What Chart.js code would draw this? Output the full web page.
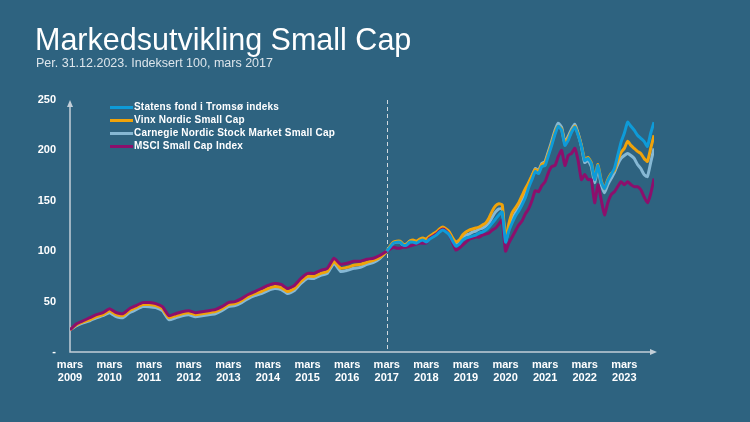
<!DOCTYPE html>
<html>
<head>
<meta charset="utf-8">
<script src="https://cdn.jsdelivr.net/npm/chart.js@4.4.1/dist/chart.umd.min.js"></script>
<style>
  html, body { margin: 0; padding: 0; background: #2e6380; }
  #wrap { position: relative; width: 750px; height: 422px; overflow: hidden;
          font-family: "Liberation Sans", Arial, sans-serif; }
  #chart { position: absolute; left: 0; top: 0; }
  h1 { position: absolute; left: 35px; top: 24px; margin: 0; font-size: 30.5px; line-height: 30px;
       font-weight: normal; color: #fff; white-space: nowrap; }
  .sub { position: absolute; left: 36px; top: 57px; font-size: 12.5px; line-height: 1;
         color: #dce5eb; white-space: nowrap; }
  #legend { position: absolute; left: 110px; top: 100px; }
  #legend div { height: 13px; line-height: 13px; font-size: 10px; font-weight: bold; color: #fff;
                white-space: nowrap; letter-spacing: 0.2px; }
  #legend span { display: inline-block; width: 23px; height: 3px; margin-right: 1px; vertical-align: middle; }
</style>
</head>
<body>
<div id="wrap">
  <canvas id="chart" width="750" height="422"></canvas>
  <h1>Markedsutvikling Small Cap</h1>
  <div class="sub">Per. 31.12.2023. Indeksert 100, mars 2017</div>
  <div id="legend"></div>
</div>
<script>
// month offsets from mars 2009: every 2nd month up to mars 2017, then monthly to des 2023
var months = [];
for (var m = 0; m <= 96; m += 2) months.push(m);
for (var m2 = 97; m2 <= 177; m2++) months.push(m2);

var tickMonths = [0, 12, 24, 36, 48, 60, 72, 84, 96, 108, 120, 132, 144, 156, 168];
var tickYears = ['2009', '2010', '2011', '2012', '2013', '2014', '2015', '2016', '2017',
                 '2018', '2019', '2020', '2021', '2022', '2023'];

var seriesNames = ['Statens fond i Tromsø indeks', 'Vinx Nordic Small Cap',
                   'Carnegie Nordic Stock Market Small Cap', 'MSCI Small Cap Index'];
var seriesColors = ['#0e9bd8', '#f0a30a', '#86b8d4', '#8c0f6c'];

// before mars 2017 (every 2nd month)
var vinxPre = [22,27,30,32,35,37,41,37,36,41,44,47,47,46,43,34,36,38,39,37,38,39,40,43,47,
               48,51,55,58,60,63,65,64,60,63,70,75,75,78,80,90,83,84,86,87,89,91,94,100];
var carnegiePre = [22,26,29,31,34,36,39,35,34,39,42,45,45,44,41,32,34,36,37,35,36,37,38,41,45,
                   46,49,53,56,58,61,63,62,58,61,68,73,73,76,78,88,80,81,83,84,87,89,93,100];
var msciPre = [22,28,31,34,37,39,43,39,38,43,46,49,49,48,45,36,38,40,41,39,40,41,42,45,49,
               50,53,57,60,63,66,68,67,63,66,73,78,78,81,83,93,87,88,90,90,92,93,96,100];

// apr 2017 - des 2023 (monthly)
var statensPost = [104,108,109,109,106,106,109,109,108,110,111,109,
                   112,114,116,119,121,119,116,110,105,107,111,113,
                   114,115,116,118,119,121,124,128,132,136,139,109,
                   120,128,135,140,146,153,163,171,179,177,184,185,
                   195,205,216,224,220,205,210,218,223,215,204,190,
                   192,187,171,185,169,162,170,176,182,195,208,217,
                   228,224,220,215,212,209,204,217,228];
var vinxPost = [105,109,110,110,107,107,110,111,110,112,113,112,
                115,117,119,122,124,122,119,113,109,111,116,119,
                121,122,123,124,126,128,133,140,145,147,146,112,
                127,138,143,148,155,162,168,175,181,179,186,188,
                197,207,218,224,221,207,212,219,224,216,205,191,
                193,188,172,186,170,162,171,177,180,190,198,202,
                209,205,202,199,197,192,189,202,215];
var carnegiePost = [104,108,109,109,106,107,110,110,109,111,112,110,
                    113,115,117,120,122,120,117,111,106,108,113,116,
                    117,119,120,122,123,125,128,134,139,142,142,110,
                    123,132,138,143,150,158,167,174,182,180,187,189,
                    199,209,220,227,223,208,214,221,226,217,204,188,
                    190,184,168,182,166,158,166,172,178,186,192,195,
                    197,195,192,186,182,176,174,188,202];
var msciPost = [102,104,103,103,104,104,105,106,107,108,108,108,
                113,115,117,120,122,120,116,108,101,103,106,109,
                112,113,114,114,116,117,118,121,123,127,131,100,
                108,114,120,126,130,137,142,150,160,159,165,169,
                178,184,185,194,200,185,195,197,202,190,171,176,
                171,171,148,166,151,136,148,156,159,164,169,166,
                169,166,164,164,161,154,148,157,172];

var statens = [];
for (var i = 0; i < 48; i++) statens.push(null);
statens = statens.concat([100], statensPost);
var vinx = vinxPre.concat(vinxPost);
var carnegie = carnegiePre.concat(carnegiePost);
var msci = msciPre.concat(msciPost);

function toPoints(arr) {
  return months.map(function(m, i) { return { x: m, y: arr[i] }; });
}

// legend (HTML)
var legend = document.getElementById('legend');
seriesNames.forEach(function(name, i) {
  var row = document.createElement('div');
  row.innerHTML = '<span style="background:' + seriesColors[i] + '"></span>' + name;
  legend.appendChild(row);
});

var axisColor = '#c3cfd8';
var axesPlugin = {
  id: 'axesArrows',
  beforeDatasetsDraw: function(chart) {
    var ctx = chart.ctx, a = chart.chartArea;
    var xs = chart.scales.x;
    ctx.save();
    // dashed line at mars 2017
    var dx = Math.round(xs.getPixelForValue(96)) + 0.5;
    ctx.strokeStyle = '#d0d8de';
    ctx.lineWidth = 1;
    ctx.setLineDash([4, 3]);
    ctx.beginPath();
    ctx.moveTo(dx, a.top);
    ctx.lineTo(dx, a.bottom);
    ctx.stroke();
    ctx.setLineDash([]);
    // axes
    ctx.strokeStyle = axisColor;
    ctx.fillStyle = axisColor;
    ctx.lineWidth = 1.5;
    ctx.beginPath();
    ctx.moveTo(a.left, a.top + 4);
    ctx.lineTo(a.left, a.bottom);
    ctx.lineTo(a.right - 2, a.bottom);
    ctx.stroke();
    ctx.beginPath();
    ctx.moveTo(a.left, a.top);
    ctx.lineTo(a.left - 3, a.top + 7);
    ctx.lineTo(a.left + 3, a.top + 7);
    ctx.closePath();
    ctx.fill();
    ctx.beginPath();
    ctx.moveTo(a.right + 3, a.bottom);
    ctx.lineTo(a.right - 4, a.bottom - 3);
    ctx.lineTo(a.right - 4, a.bottom + 3);
    ctx.closePath();
    ctx.fill();
    ctx.restore();
  }
};

var fam = '"Liberation Sans", Arial, sans-serif';
var ds = function(idx, arr) {
  return {
    label: seriesNames[idx],
    data: toPoints(arr),
    borderColor: seriesColors[idx],
    borderWidth: 3,
    pointRadius: 0,
    tension: 0.15,
    fill: false,
    spanGaps: false
  };
};

new Chart(document.getElementById('chart'), {
  type: 'line',
  data: {
    // first dataset is painted on top
    datasets: [ds(0, statens), ds(3, msci), ds(1, vinx), ds(2, carnegie)]
  },
  options: {
    responsive: false,
    animation: false,
    layout: { padding: { left: 0, top: 100, right: 96, bottom: 18 } },
    plugins: { legend: { display: false }, tooltip: { enabled: false } },
    scales: {
      x: {
        type: 'linear',
        min: 0,
        max: 177,
        grid: { display: false, drawTicks: false },
        border: { display: false },
        afterBuildTicks: function(s) { s.ticks = tickMonths.map(function(v) { return { value: v }; }); },
        afterFit: function(s) { s.height = 52; },
        ticks: {
          color: '#fff',
          padding: 6,
          maxRotation: 0,
          autoSkip: false,
          font: { family: fam, size: 11, weight: 'bold', lineHeight: 1.2 },
          callback: function(v) { return ['mars', tickYears[tickMonths.indexOf(v)]]; }
        }
      },
      y: {
        min: 0,
        max: 250,
        grid: { display: false, drawTicks: false },
        border: { display: false },
        afterFit: function(s) { s.width = 70; },
        ticks: {
          stepSize: 50,
          color: '#fff',
          padding: 14,
          font: { family: fam, size: 11, weight: 'bold' },
          callback: function(v) { return v === 0 ? '-' : v; }
        }
      }
    }
  },
  plugins: [axesPlugin]
});
</script>
</body>
</html>
